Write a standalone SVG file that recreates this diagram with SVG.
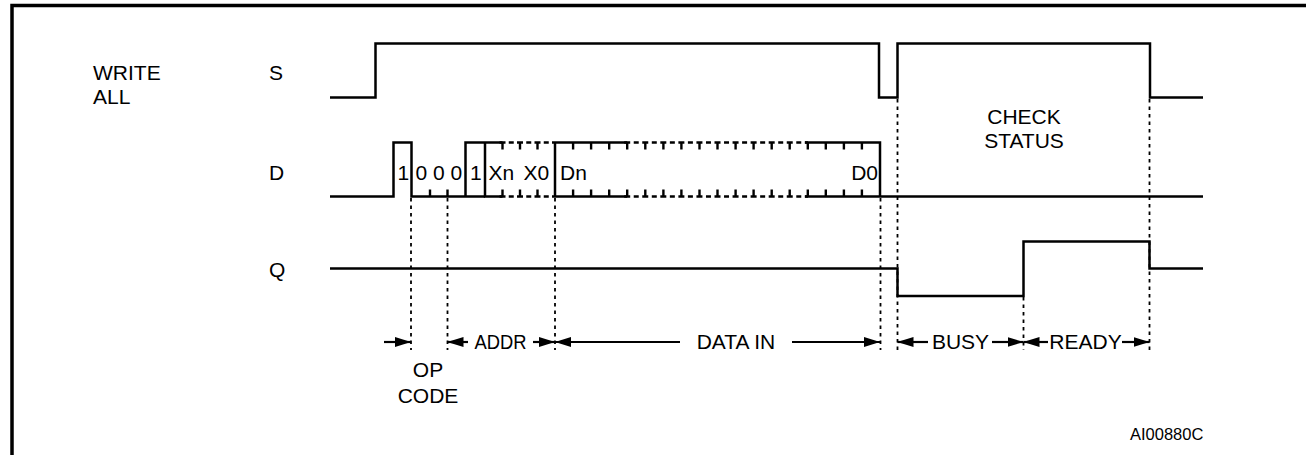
<svg xmlns="http://www.w3.org/2000/svg" width="1306" height="455" viewBox="0 0 1306 455">
<defs>
<style>
.t{font-family:"Liberation Sans",Arial,sans-serif;font-size:21px;fill:#000}
.ref{font-size:16.5px}
.w{fill:none;stroke:#000;stroke-width:2.5;stroke-linejoin:miter}
.tk{fill:none;stroke:#000;stroke-width:2.4}
.dsh{fill:none;stroke:#000;stroke-width:2.5}
.dot{fill:none;stroke:#000;stroke-width:1.8;stroke-dasharray:3.5 4}
.ar{fill:none;stroke:#000;stroke-width:2.2}
</style>
<marker id="ah" viewBox="0 0 16 10" refX="16" refY="5" markerWidth="16" markerHeight="10" markerUnits="userSpaceOnUse" orient="auto">
<path d="M0,0 L16,5 L0,10 Z" fill="#000"/>
</marker>
</defs>
<rect width="1306" height="455" fill="#fff"/>
<g id="frame">
<path d="M12,455 V5.5 H1306" fill="none" stroke="#000" stroke-width="3.5"/>
</g>
<g id="labels">
<text class="t" x="93" y="80">WRITE</text>
<text class="t" x="93" y="104">ALL</text>
<text class="t" x="269" y="80">S</text>
<text class="t" x="269" y="180">D</text>
<text class="t" x="269" y="277">Q</text>
<text class="t" x="1024" y="124" text-anchor="middle">CHECK</text>
<text class="t" x="1024" y="148" text-anchor="middle">STATUS</text>
<text class="t ref" x="1130" y="440">AI00880C</text>
</g>
<g id="signal-S">
<path class="w" d="M330,97.5 H375.5 V43.5 H879 V97.5 H897.5 V43.5 H1150 V97.5 H1203"/>
</g>
<g id="signal-D">
<path class="w" d="M330,196.5 H393.5 V142.5 H411.5 V196.5 H485"/>
<path class="w" d="M465.5,196.5 V142.5 H502.5"/>
<path class="w" d="M485,142.5 V196.5 H502.5"/>
<path class="w" d="M555,142.5 V196.5"/>
<path class="w" d="M555,142.5 H627.2 M555,196.5 H627.2"/>
<path class="w" d="M805,142.5 H880 V196.5 H1203 M805,196.5 H880"/>
<path class="dsh" d="M499.5,142.5 H555 M499.5,196.5 H555" stroke-dasharray="6 3.25 5 3.25"/>
<path class="dsh" d="M624.2,142.5 H808 M624.2,196.5 H808" stroke-dasharray="6 3.53 5 3.53"/>
<path class="tk" d="M430,196.5 v-7 M447.5,196.5 v-7
M502.5,142.5 v7 M520,142.5 v7 M537.5,142.5 v7
M502.5,196.5 v-7 M520,196.5 v-7 M537.5,196.5 v-7
M573.1,142.5 v7 M591.1,142.5 v7 M609.2,142.5 v7 M627.2,142.5 v7 M645.3,142.5 v7 M663.4,142.5 v7 M681.4,142.5 v7 M699.5,142.5 v7 M717.5,142.5 v7 M735.6,142.5 v7 M753.6,142.5 v7 M771.7,142.5 v7 M789.7,142.5 v7 M807.8,142.5 v7 M825.8,142.5 v7 M843.9,142.5 v7 M861.9,142.5 v7
M573.1,196.5 v-7 M591.1,196.5 v-7 M609.2,196.5 v-7 M627.2,196.5 v-7 M645.3,196.5 v-7 M663.4,196.5 v-7 M681.4,196.5 v-7 M699.5,196.5 v-7 M717.5,196.5 v-7 M735.6,196.5 v-7 M753.6,196.5 v-7 M771.7,196.5 v-7 M789.7,196.5 v-7 M807.8,196.5 v-7 M825.8,196.5 v-7 M843.9,196.5 v-7 M861.9,196.5 v-7"/>
<text class="t" x="397.5" y="180">1</text>
<text class="t" x="415.5" y="180">0 0 0</text>
<text class="t" x="470" y="180">1</text>
<text class="t" x="488.5" y="180">Xn</text>
<text class="t" x="523.5" y="180">X0</text>
<text class="t" x="560" y="180">Dn</text>
<text class="t" x="878" y="180" text-anchor="end">D0</text>
</g>
<g id="signal-Q">
<path class="w" d="M330,268.5 H897.5 V296 H1023.5 V241.5 H1149.5 V268.5 H1203"/>
</g>
<g id="connectors">
<path class="dot" d="M411,198 V350 M447.5,198 V350 M555,198 V350 M880.5,198 V350 M897.5,99 V350 M1023.5,297 V350 M1149.5,99 V350"/>
<line class="ar" x1="384" y1="342" x2="411" y2="342" marker-end="url(#ah)"/>
<line class="ar" x1="468" y1="342" x2="447.5" y2="342" marker-end="url(#ah)"/>
<line class="ar" x1="533" y1="342" x2="555" y2="342" marker-end="url(#ah)"/>
<line class="ar" x1="680" y1="342" x2="555" y2="342" marker-end="url(#ah)"/>
<line class="ar" x1="792" y1="342" x2="880" y2="342" marker-end="url(#ah)"/>
<line class="ar" x1="928" y1="342" x2="897.5" y2="342" marker-end="url(#ah)"/>
<line class="ar" x1="992" y1="342" x2="1023.5" y2="342" marker-end="url(#ah)"/>
<line class="ar" x1="1048" y1="342" x2="1023.5" y2="342" marker-end="url(#ah)"/>
<line class="ar" x1="1122" y1="342" x2="1149.5" y2="342" marker-end="url(#ah)"/>
</g>
<g id="interval-labels">
<text class="t" x="500.5" y="349" text-anchor="middle" textLength="52" lengthAdjust="spacingAndGlyphs">ADDR</text>
<text class="t" x="736" y="349" text-anchor="middle">DATA IN</text>
<text class="t" x="960.5" y="349" text-anchor="middle">BUSY</text>
<text class="t" x="1085.5" y="349" text-anchor="middle">READY</text>
<text class="t" x="428" y="377" text-anchor="middle">OP</text>
<text class="t" x="428" y="403" text-anchor="middle">CODE</text>
</g>
</svg>
